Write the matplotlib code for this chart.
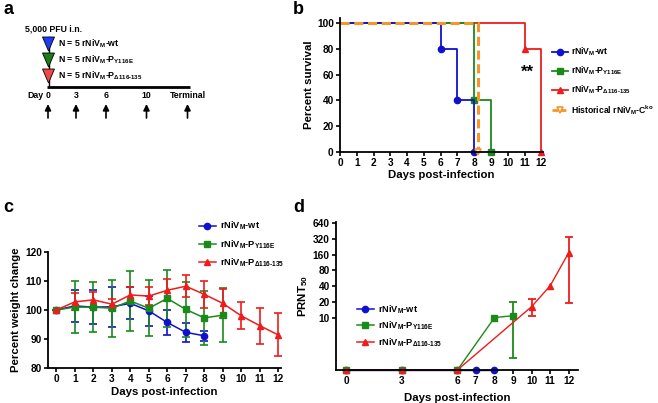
import numpy as np
import matplotlib
matplotlib.use("Agg")
import matplotlib.pyplot as plt
from matplotlib.patches import Polygon

plt.rcParams['font.family'] = ['Liberation Sans', 'DejaVu Sans']
plt.rcParams['font.weight'] = 'bold'
plt.rcParams['axes.labelweight'] = 'bold'
plt.rcParams['mathtext.fontset'] = 'custom'
plt.rcParams['mathtext.bf'] = 'Liberation Sans:bold'
plt.rcParams['mathtext.rm'] = 'Liberation Sans:bold'
plt.rcParams['mathtext.default'] = 'bf'

W, H = 658, 403

# colours
BLUE = '#1010d0'
GREEN = '#1b8a1b'
RED = '#ee1c1c'
ORANGE = '#f5962a'

lab_wt = r'rNiV$_M$-wt'
lab_y116e = r'rNiV$_M$-P$_{Y116E}$'
lab_del = r'rNiV$_M$-P$_{\Delta116\text{-}135}$'
lab_hist = r'Historical rNiV$_M$-C$^{ko}$'

# ---- panel b: survival ----
surv_wt_days = [0, 6, 7, 8]
surv_wt = [100, 80, 40, 0]
surv_y116e_days = [0, 8, 9]
surv_y116e = [100, 40, 0]
surv_del_days = [0, 11, 12]
surv_del = [100, 80, 0]
surv_hist_days = [0, 8.2]
surv_hist = [100, 0]

# ---- panel c: weight change ----
wt_days = np.arange(0, 9)
wt_mean = [100, 101.4, 101.0, 101.1, 102.3, 99.7, 95.7, 92.3, 91.1]
wt_err = [0, 5.4, 6.0, 7.0, 5.5, 5.2, 4.2, 3.3, 1.8]
y116e_days = np.arange(0, 10)
y116e_mean = [100, 101.0, 101.0, 100.6, 103.1, 100.6, 104.0, 100.2, 97.3, 98.2]
y116e_err = [0, 8.9, 8.6, 9.8, 10.4, 9.6, 9.8, 9.4, 9.2, 9.4]
del_days = np.arange(0, 13)
del_mean = [100, 102.8, 103.5, 102.0, 105.2, 104.8, 106.8, 108.2, 105.4, 102.3, 98.0, 94.6, 91.4]
del_err = [0, 2.9, 2.7, 1.9, 2.7, 3.0, 3.8, 3.8, 4.7, 5.0, 4.7, 6.2, 7.4]

# ---- panel d: PRNT50 (values below detection drawn at axis floor = 1) ----
prnt_wt_days = [0, 3, 6, 7, 8]
prnt_wt = [1, 1, 1, 1, 1]
prnt_y116e_days = [0, 3, 6, 8, 9]
prnt_y116e = [1, 1, 1, 10, 10.9]
prnt_y116e_lo = [np.nan, np.nan, np.nan, np.nan, 9.2]
prnt_y116e_hi = [np.nan, np.nan, np.nan, np.nan, 9.1]
prnt_del_days = [0, 3, 6, 10, 11, 12]
prnt_del = [1, 1, 1, 16.2, 40.6, 174]
prnt_del_lo = [np.nan, np.nan, np.nan, 5.5, np.nan, 155]
prnt_del_hi = [np.nan, np.nan, np.nan, 6.1, np.nan, 171]
prnt_ticks = [10, 20, 40, 80, 160, 320, 640]

# schedule for panel a
sched_days = ['0', '3', '6', '10', 'Terminal']
sched_x = [48, 76, 106, 146.5, 187.5]
groups = [r'N = 5 rNiV$_M$-wt', r'N = 5 rNiV$_M$-P$_{Y116E}$',
          r'N = 5 rNiV$_M$-P$_{\Delta116\text{-}135}$']
group_cols = ['#1f3cf5', '#1a7d1a', '#f04848']

fig = plt.figure(figsize=(W / 100, H / 100), dpi=100)


def rect(x0, y0, x1, y1):
    return [x0 / W, 1 - y1 / H, (x1 - x0) / W, (y1 - y0) / H]


def style(ax):
    for s in ['top', 'right']:
        ax.spines[s].set_visible(False)
    for s in ['left', 'bottom']:
        ax.spines[s].set_linewidth(1.3)
    ax.tick_params(width=1.2, length=3, labelsize=7.3, pad=1.5)
    for t in ax.get_xticklabels() + ax.get_yticklabels():
        t.set_fontweight('bold')


def legend(ax, handles, labels, x, y, spacing, fs=6.7, tp=0.45):
    ax.legend(handles, labels, loc='upper left',
              bbox_to_anchor=(x / W, 1 - y / H), bbox_transform=fig.transFigure,
              frameon=False, fontsize=fs, handlelength=1.8, handletextpad=tp,
              labelspacing=spacing, borderpad=0, borderaxespad=0)


# ---------- a ----------
axa = fig.add_axes(rect(0, 0, 290, 200))
axa.set_xlim(0, 290)
axa.set_ylim(200, 0)
axa.axis('off')
fs_a = 6.3
axa.text(25, 29, '5,000 PFU i.n.', fontsize=fs_a, va='center', ha='left')
axa.plot([48.5, 48.5], [37, 87], color='k', lw=1)
for i, (g, c) in enumerate(zip(groups, group_cols)):
    top = 37 + i * 16
    axa.add_patch(Polygon([(42.5, top), (54.5, top), (48.5, top + 14)],
                          closed=True, fc=c, ec='k', lw=0.6, zorder=3))
    axa.text(58, top + 7, g, fontsize=fs_a, va='center', ha='left')
axa.plot([47, 190], [87, 87], color='k', lw=2, solid_capstyle='butt')
axa.text(44, 95, 'Day', fontsize=fs_a, va='center', ha='right')
for d, x in zip(sched_days, sched_x):
    axa.text(x, 95, d, fontsize=fs_a, va='center', ha='center')
    axa.annotate('', xy=(x, 104), xytext=(x, 118),
                 arrowprops=dict(arrowstyle='-|>', color='k', lw=1.2,
                                 mutation_scale=9, shrinkA=0, shrinkB=0))

# ---------- b ----------
axb = fig.add_axes(rect(340, 18, 543, 152))
axb.step(surv_del_days, surv_del, where='post', color=RED, lw=1.3)
axb.plot(surv_del_days[1:], surv_del[1:], '^', color=RED, ms=4.5, clip_on=False)
axb.step(surv_y116e_days, surv_y116e, where='post', color=GREEN, lw=1.3)
axb.plot(surv_y116e_days[1:], surv_y116e[1:], 's', color=GREEN, ms=4.5, clip_on=False)
axb.step(surv_wt_days, surv_wt, where='post', color=BLUE, lw=1.3)
axb.plot(surv_wt_days[1:], surv_wt[1:], 'o', color=BLUE, ms=4.5, clip_on=False)
axb.step(surv_hist_days, surv_hist, where='post', color=ORANGE, lw=2.2, ls=(0, (3, 1.5)))
axb.plot(surv_hist_days[1:], surv_hist[1:], 'v', mfc='white', mec=ORANGE, mew=1.2,
         ms=4.5, clip_on=False)
axb.text(11.15, 62, '**', fontsize=12, ha='center', va='center')
axb.set_xlim(0, 12.1)
axb.set_ylim(0, 104)
axb.set_xticks(range(0, 13))
axb.set_yticks(range(0, 101, 20))
axb.set_xlabel('Days post-infection', fontsize=8.2, labelpad=1)
axb.set_ylabel('Percent survival', fontsize=8.2, labelpad=2)
style(axb)
hb = [plt.Line2D([], [], color=BLUE, marker='o', ms=4.5, lw=1.3),
      plt.Line2D([], [], color=GREEN, marker='s', ms=4.5, lw=1.3),
      plt.Line2D([], [], color=RED, marker='^', ms=4.5, lw=1.3),
      plt.Line2D([], [], color=ORANGE, marker='v', mfc='white', mew=1.2, ms=4.5,
                 lw=2, ls=(0, (2, 1)))]
legend(axb, hb, [lab_wt, lab_y116e, lab_del, lab_hist], 552, 46, 0.75, fs=6.2, tp=0.4)

# ---------- c ----------
axc = fig.add_axes(rect(48, 252, 281, 368))
ekw = dict(capsize=3, elinewidth=1.2, capthick=1.2, lw=1.1, ms=4.5, clip_on=False)
axc.errorbar(wt_days, wt_mean, yerr=wt_err, color=BLUE, marker='o', **ekw)
axc.errorbar(y116e_days, y116e_mean, yerr=y116e_err, color=GREEN, marker='s', **ekw)
axc.errorbar(del_days, del_mean, yerr=del_err, color=RED, marker='^', **ekw)
axc.set_xlim(-0.45, 12.15)
axc.set_ylim(80, 120)
axc.set_xticks(range(0, 13))
axc.set_yticks(range(80, 121, 10))
axc.set_xlabel('Days post-infection', fontsize=8.2, labelpad=2)
axc.set_ylabel('Percent weight change', fontsize=8.2, labelpad=3)
style(axc)
hc = [plt.Line2D([], [], color=BLUE, marker='o', ms=4.5, lw=1.1),
      plt.Line2D([], [], color=GREEN, marker='s', ms=4.5, lw=1.1),
      plt.Line2D([], [], color=RED, marker='^', ms=4.5, lw=1.1)]
legend(axc, hc, [lab_wt, lab_y116e, lab_del], 199, 220, 0.6)

# ---------- d ----------
axd = fig.add_axes(rect(336, 222, 578, 370))
dkw = dict(capsize=3, elinewidth=1.3, capthick=1.3, lw=1.0, ms=4.5, clip_on=False)
axd.errorbar(prnt_wt_days, prnt_wt, color=BLUE, marker='o', **dkw)
axd.errorbar(prnt_y116e_days, prnt_y116e, yerr=[prnt_y116e_lo, prnt_y116e_hi],
             color=GREEN, marker='s', **dkw)
axd.errorbar(prnt_del_days, prnt_del, yerr=[prnt_del_lo, prnt_del_hi],
             color=RED, marker='^', **dkw)
axd.set_yscale('log', base=2)
axd.set_ylim(1, 670)
axd.set_xlim(-0.54, 12.5)
axd.set_yticks(prnt_ticks)
axd.set_yticklabels([str(t) for t in prnt_ticks])
axd.minorticks_off()
axd.set_xticks([0, 3, 6, 7, 8, 9, 10, 11, 12])
axd.set_xlabel('Days post-infection', fontsize=8.2, labelpad=5)
axd.set_ylabel(r'PRNT$_{50}$', fontsize=8.2, labelpad=2)
style(axd)
legend(axd, hc, [lab_wt, lab_y116e, lab_del], 357, 303, 0.45)

# panel letters
for letter, x, y in [('a', 3, 10), ('b', 293, 10), ('c', 3, 208), ('d', 293, 208)]:
    fig.text(x / W, 1 - y / H, letter, fontsize=13, fontweight='bold',
             ha='left', va='center')

fig.savefig('out.png', dpi=100)
